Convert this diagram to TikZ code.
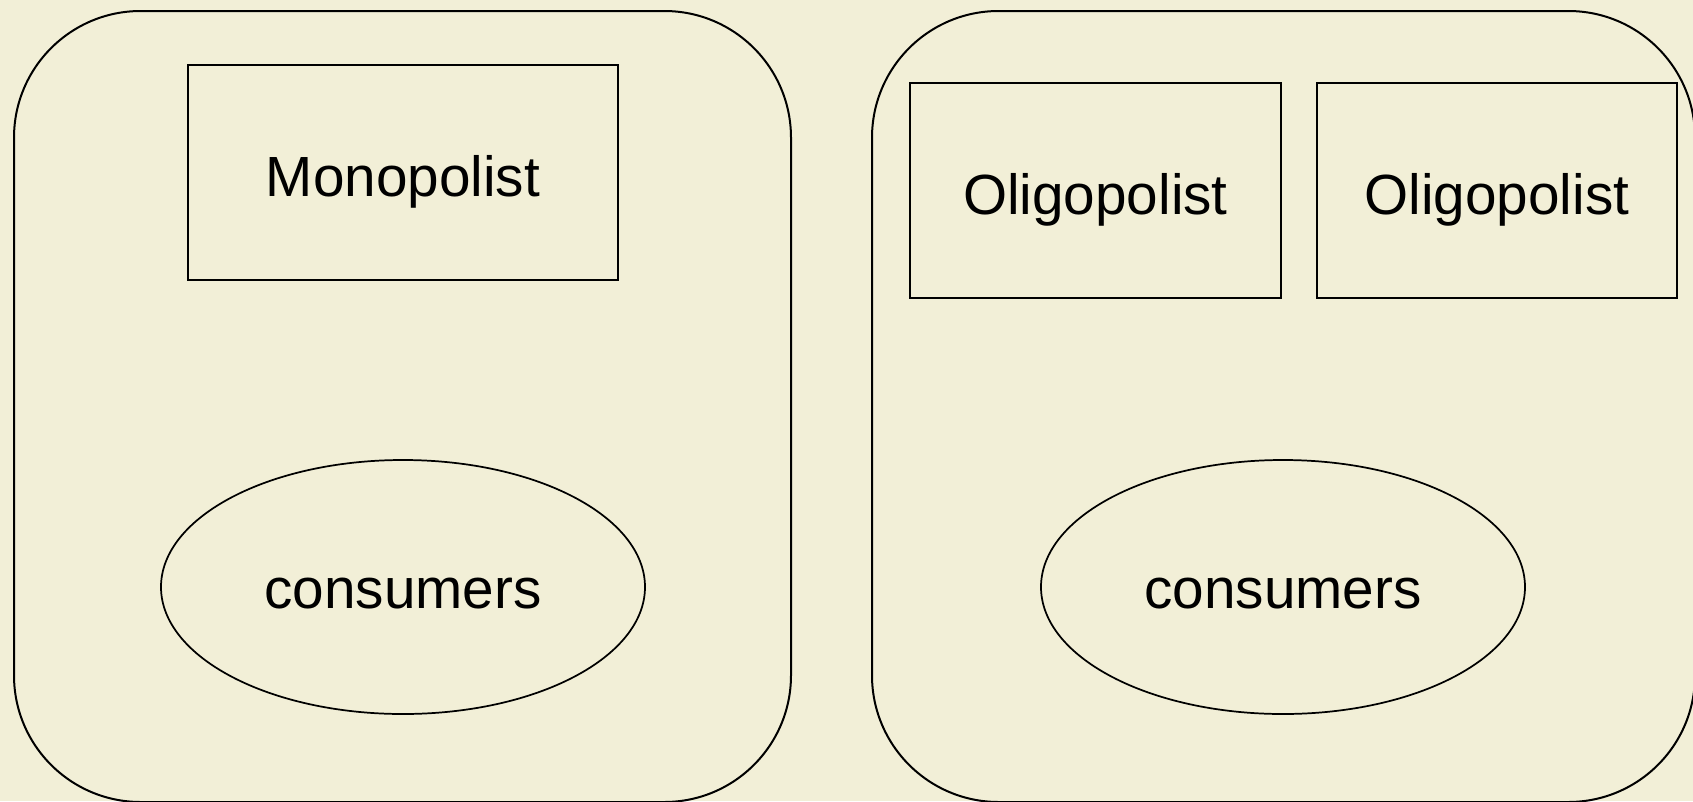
\documentclass[tikz,border=0pt]{standalone}
\usepackage{fontspec}
\setmainfont{Liberation Sans}
\usetikzlibrary{shapes.geometric}
\definecolor{paper}{RGB}{242,239,215}
\begin{document}
\begin{tikzpicture}[x=0.75pt,y=-0.75pt]
    \tikzset{
    market/.style={rectangle,rounded corners=95pt,draw=black,line width=1.5pt,inner sep=0pt},
    firm/.style={rectangle,draw=black,line width=1.3pt,inner sep=0pt,minimum height=161.25pt,
        text height=36.5pt,text depth=0pt,font=\fontsize{42.5}{50}\selectfont},
    buyers/.style={ellipse,draw=black,line width=1.3pt,inner sep=0pt,minimum width=363pt,minimum height=190.5pt,
        text height=32.3pt,text depth=0pt,font=\fontsize{42.5}{50}\selectfont},
    }
    \fill[paper] (0,0) rectangle (1693,801);
    \useasboundingbox (0,0) rectangle (1693,801);
    \clip (0,0) rectangle (1693,801);

    \node[market,minimum width=582.75pt,minimum height=593.25pt] (mono) at (402.5,406.5) {};
    \node[market,minimum width=617.25pt,minimum height=593.25pt] (oligo) at (1283.5,406.5) {};

    \node[firm,minimum width=322.5pt] (monopolist) at (403,172.5) {Monopolist};
    \node[firm,minimum width=278.25pt] (oligopolist1) at (1095.5,190.5) {Oligopolist};
    \node[firm,minimum width=270pt] (oligopolist2) at (1497,190.5) {Oligopolist};

    \node[buyers] (consumers1) at (403,587) {consumers};
    \node[buyers] (consumers2) at (1283,587) {consumers};
\end{tikzpicture}
\end{document}
